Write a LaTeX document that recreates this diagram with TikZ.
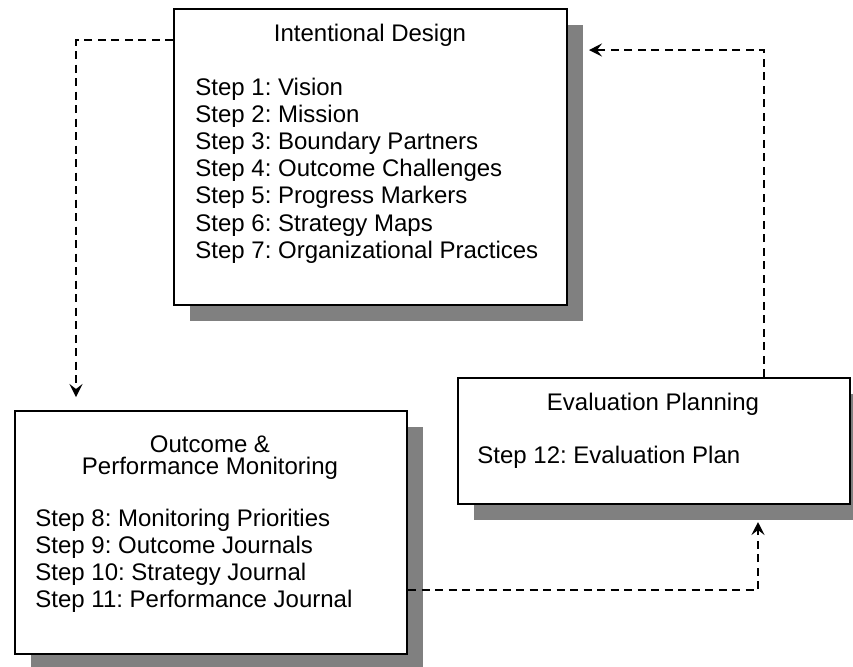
\documentclass[tikz,border=0pt]{standalone}
\usepackage{fontspec}
\setmainfont{Liberation Sans}
\usetikzlibrary{arrows.meta,shadows}
\frenchspacing

\begin{document}
\begin{tikzpicture}[x=0.5pt, y=-0.5pt,
    box/.style={draw, line width=1pt, fill=white, anchor=north west, inner sep=0pt,
      drop shadow={shadow xshift=8pt, shadow yshift=-8pt, fill=black!50, opacity=1}},
    flow/.style={line width=0.8pt, dash pattern=on 4pt off 2.75pt,
      -{Stealth[length=6.5pt, width=6.5pt, inset=2.5pt]}},
    label/.style={font=\fontsize{12}{13.6}\selectfont, inner sep=0pt}]
  \useasboundingbox (0,0) rectangle (853,666);

  % the three boxes
  \node[box, minimum width=196.5pt, minimum height=148pt] (design) at (173,8) {};
  \node[box, minimum width=196pt, minimum height=121.5pt] (monitor) at (14,410) {};
  \node[box, minimum width=196pt, minimum height=63pt] (evalplan) at (457,377) {};

  % texts
  \node[label, anchor=base] (designtitle) at (370,41) {Intentional Design};
  \foreach \name [count=\i] in {Vision, Mission, Boundary Partners, Outcome Challenges,
      Progress Markers, Strategy Maps, Organizational Practices}
    \node[label, anchor=base west] (step\i) at (195, {95+27.2*(\i-1)}) {Step \i: \name};

  \node[label, anchor=base] (monitortitle) at (210,452) {Outcome \&};
  \node[label, anchor=base] (monitorsub) at (210,474) {Performance Monitoring};
  \foreach \name [count=\i from 8] in {Monitoring Priorities, Outcome Journals,
      Strategy Journal, Performance Journal}
    \node[label, anchor=base west] (step\i) at (35, {526+27.3*(\i-8)}) {Step \i: \name};

  \node[label, anchor=base] (evaltitle) at (653,410) {Evaluation Planning};
  \node[label, anchor=base west] (step12) at (477,463) {Step 12: Evaluation Plan};

  % connectors
  \coordinate (bendone) at (76,40);
  \coordinate (bendtwo) at (758,590);
  \coordinate (bendthree) at (764,50);
  \draw[flow, shorten >=6.5pt] (design.west |- bendone) -| (monitor.north -| bendone);
  \draw[flow, shorten >=8.5pt] (monitor.east |- bendtwo) -| (evalplan.south -| bendtwo);
  \draw[flow, shorten >=10.5pt] (evalplan.north -| bendthree) |- (design.east |- bendthree);
\end{tikzpicture}
\end{document}
